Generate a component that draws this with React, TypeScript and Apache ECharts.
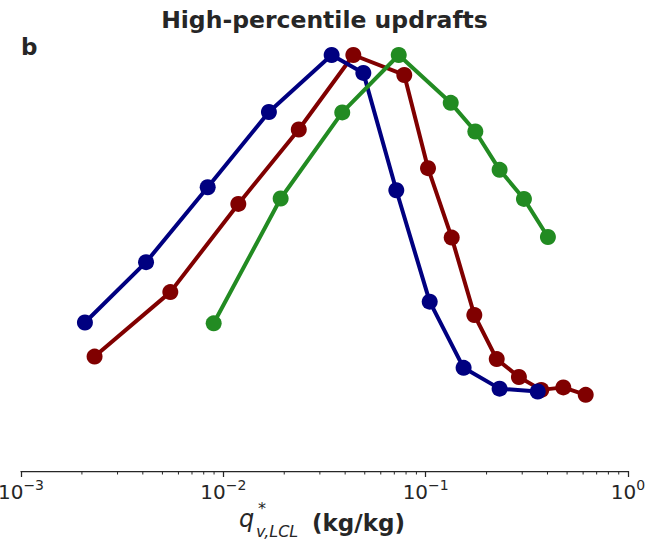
import React, { useEffect, useRef } from "react";
import * as echarts from "echarts";

// Navy series
const navyX = [0.00207, 0.00415, 0.00837, 0.0168, 0.0343, 0.0492, 0.0716, 0.1047, 0.154, 0.232, 0.358];
const navyY = [0.357, 0.502, 0.682, 0.863, 1.0, 0.957, 0.675, 0.407, 0.248, 0.198, 0.191];
// Dark red series
const redX = [0.00231, 0.00547, 0.01186, 0.0236, 0.0439, 0.0784, 0.1027, 0.1345, 0.174, 0.2245, 0.289, 0.3727, 0.479, 0.618];
const redY = [0.275, 0.43, 0.642, 0.821, 1.0, 0.952, 0.728, 0.561, 0.375, 0.269, 0.226, 0.195, 0.201, 0.183];
// Green series
const greenX = [0.00896, 0.0192, 0.0387, 0.0736, 0.133, 0.176, 0.232, 0.306, 0.402];
const greenY = [0.355, 0.655, 0.862, 1.0, 0.885, 0.816, 0.724, 0.654, 0.5625];

const xTickValues = [0.001, 0.01, 0.1, 1];
const xTickExponents = ["−3", "−2", "−1", "0"];
const xMinorTicks = [
  0.002, 0.003, 0.004, 0.005, 0.006, 0.007, 0.008, 0.009,
  0.02, 0.03, 0.04, 0.05, 0.06, 0.07, 0.08, 0.09,
  0.2, 0.3, 0.4, 0.5, 0.6, 0.7, 0.8, 0.9,
];

const TEXT = "#262626";
const FONT = "DejaVu Sans";

function zip(xs: number[], ys: number[]) {
  return xs.map((x, i) => [x, ys[i]]);
}

export default function App() {
  const ref = useRef<HTMLDivElement>(null);
  useEffect(() => {
    if (!ref.current) return;
    const chart = echarts.init(ref.current, undefined, { renderer: "svg" });
    const lineSeries = (name: string, xs: number[], ys: number[], color: string, z: number) => ({
      type: "line",
      name,
      data: zip(xs, ys),
      symbol: "circle",
      symbolSize: 16,
      showSymbol: true,
      z,
      itemStyle: { color },
      lineStyle: { color, width: 4 },
      clip: false,
    });
    chart.setOption({
      animation: false,
      backgroundColor: "#ffffff",
      grid: {
        left: 21,
        right: 44,
        top: 471 - 1.05 * 416,
        bottom: 73,
        containLabel: false,
        outerBoundsMode: "none",
      },
      xAxis: {
        type: "log",
        logBase: 10,
        min: 0.001,
        max: 1,
        axisLine: { show: true, lineStyle: { color: TEXT, width: 1.25 } },
        axisTick: { show: true, length: 6, lineStyle: { color: TEXT, width: 1.25 } },
        splitLine: { show: false },
        minorTick: { show: false },
        axisLabel: {
          margin: 7,
          hideOverlap: false,
          formatter: (v: number) => {
            const idx = xTickValues.findIndex((t) => Math.abs(Math.log10(t) - Math.log10(v)) < 1e-6);
            if (idx < 0) return "";
            return `{n|10}{e|${xTickExponents[idx]}}`;
          },
          rich: {
            n: { fontFamily: FONT, fontSize: 20, color: TEXT, lineHeight: 24, verticalAlign: "bottom" },
            e: { fontFamily: FONT, fontSize: 14, color: TEXT, lineHeight: 14, verticalAlign: "top" },
          },
        },
      },
      yAxis: {
        type: "value",
        min: 0,
        max: 1.05,
        show: false,
      },
      series: [
        {
          type: "custom",
          name: "minorTicks",
          data: xMinorTicks.map((x) => [x, 0]),
          clip: false,
          silent: true,
          renderItem: (params: any, api: any) => {
            const p = api.coord([api.value(0), 0]);
            return {
              type: "line",
              shape: { x1: p[0], y1: p[1], x2: p[0], y2: p[1] + 3.5 },
              style: { stroke: TEXT, lineWidth: 1 },
            };
          },
        },
        lineSeries("red", redX, redY, "#800000", 3),
        lineSeries("navy", navyX, navyY, "#000080", 4),
        lineSeries("green", greenX, greenY, "#228B22", 5),
      ],
      graphic: [
        {
          type: "text",
          x: 324.5,
          y: 20,
          style: {
            text: "High-percentile updrafts",
            font: `bold 23.5px "${FONT}"`,
            fill: TEXT,
            textAlign: "center",
            textVerticalAlign: "middle",
          },
        },
        {
          type: "text",
          x: 21,
          y: 47,
          style: {
            text: "b",
            font: `bold 23px "${FONT}"`,
            fill: TEXT,
            textAlign: "left",
            textVerticalAlign: "middle",
          },
        },
        {
          type: "text",
          x: 239,
          y: 519,
          style: { text: "q", font: `italic 24px "${FONT}"`, fill: TEXT, textAlign: "left", textVerticalAlign: "middle" },
        },
        {
          type: "text",
          x: 258,
          y: 508,
          style: { text: "*", font: `16px "${FONT}"`, fill: TEXT, textAlign: "left", textVerticalAlign: "middle" },
        },
        {
          type: "text",
          x: 256,
          y: 531,
          style: { text: "v,LCL", font: `italic 16px "${FONT}"`, fill: TEXT, textAlign: "left", textVerticalAlign: "middle" },
        },
        {
          type: "text",
          x: 312,
          y: 523,
          style: { text: "(kg/kg)", font: `bold 23px "${FONT}"`, fill: TEXT, textAlign: "left", textVerticalAlign: "middle" },
        },
      ],
    });
    return () => chart.dispose();
  }, []);
  return <div ref={ref} style={{ width: 672, height: 544, position: "absolute", left: 0, top: 0 }} />;
}
